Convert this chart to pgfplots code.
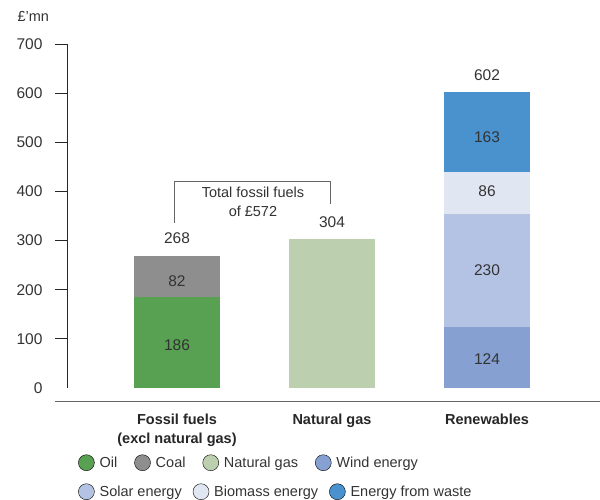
\documentclass[border=0pt]{standalone}
\usepackage{pgfplots}
\pgfplotsset{compat=1.18}
\usepackage{fontspec}
\setmainfont{Liberation Sans}

\definecolor{oilC}{HTML}{58A052}
\definecolor{coalC}{HTML}{8E8E8E}
\definecolor{gasC}{HTML}{BCD0B0}
\definecolor{windC}{HTML}{86A0D2}
\definecolor{solarC}{HTML}{B4C3E4}
\definecolor{bioC}{HTML}{E1E6F3}
\definecolor{wasteC}{HTML}{4A92CE}
\definecolor{txtC}{HTML}{333333}
\definecolor{lineC}{HTML}{666666}

\newcommand{\fs}{\fontsize{14.5}{19}\selectfont}
\newcommand{\fn}{\fontsize{15.5}{19}\selectfont}
\tikzset{vl/.style={font=\fn, text=txtC}}

\pgfplotsset{dot legend/.style={legend image code/.code={\fill[##1] (8pt,0pt) circle (8pt);}}}

\begin{document}
\begin{tikzpicture}
\begin{axis}[
  scale only axis, width=532pt, height=344pt,
  xmin=-0.7032, xmax=2.729, ymin=0, ymax=700,
  axis lines*=left,
  x axis line style={draw=none},
  y axis line style={black!85, line width=1pt},
  ybar stacked, bar width=86pt,
  xtick={0,1,2},
  xticklabels={{Fossil fuels\\(excl natural gas)}, Natural gas, Renewables},
  xtick style={draw=none},
  x tick label style={font=\fs\bfseries, align=center, text=black!85, yshift=-9pt},
  ytick={100,200,...,700},
  extra y ticks={0},
  extra y tick style={tick style={draw=none}},
  tick align=outside, major tick length=13pt,
  ytick style={black!85, line width=1pt},
  y tick label style={font=\fn, text=txtC, xshift=-9pt},
  /pgf/number format/assume math mode=true,
  clip=false,
  legend style={draw=none, fill=none, at={(0.0188,-0.2172)}, anchor=west,
    font=\fs, text=txtC, inner sep=0pt,
    /tikz/every odd column/.append style={column sep=3pt},
    /tikz/every even column/.append style={column sep=15pt}},
  legend columns=-1,
  legend entries={,,,,,,,Oil, Coal, Natural gas, Wind energy},
]
\addplot[draw=none, fill=oilC] coordinates {(0,186) (1,0) (2,0)};
\addplot[draw=none, fill=coalC] coordinates {(0,82) (1,0) (2,0)};
\addplot[draw=none, fill=gasC] coordinates {(0,0) (1,304) (2,0)};
\addplot[draw=none, fill=windC] coordinates {(0,0) (1,0) (2,124)};
\addplot[draw=none, fill=solarC] coordinates {(0,0) (1,0) (2,230)};
\addplot[draw=none, fill=bioC] coordinates {(0,0) (1,0) (2,86)};
\addplot[draw=none, fill=wasteC] coordinates {(0,0) (1,0) (2,163)};

\addlegendimage{dot legend, fill=oilC}
\addlegendimage{dot legend, fill=coalC}
\addlegendimage{dot legend, fill=gasC}
\addlegendimage{dot legend, fill=windC}

% bracket
\draw[lineC, line width=1pt] (axis cs:-0.019,336) |- (axis cs:0.992,419.6) -- (axis cs:0.992,374.2);
\node[font=\fs, text=txtC, align=center, fill=white, inner sep=1pt] at (axis cs:0.49,378) {Total fossil fuels\\of £572};

% baseline
\draw[lineC, line width=1.8pt] (axis cs:-0.787,-27.5) -- (axis cs:2.76,-27.5);

% unit label
\node[font=\fs, text=txtC, anchor=west, xshift=-54pt, yshift=28pt] at (rel axis cs:0,1) {£’mn};
\end{axis}

% second layer: value labels on top of the bars, and second legend row
\begin{axis}[
  scale only axis, width=532pt, height=344pt,
  xmin=-0.7032, xmax=2.729, ymin=0, ymax=700, hide axis, clip=false,
  legend style={draw=none, fill=none, at={(0.0188,-0.3015)}, anchor=west,
    font=\fs, text=txtC, inner sep=0pt,
    /tikz/every odd column/.append style={column sep=3pt},
    /tikz/every even column/.append style={column sep=9pt}},
  legend columns=-1,
  legend entries={Solar energy, Biomass energy, Energy from waste},
]
\addlegendimage{dot legend, fill=solarC}
\addlegendimage{dot legend, fill=bioC}
\addlegendimage{dot legend, fill=wasteC}
\addplot[draw=none, forget plot] coordinates {(0,0)};

% segment values
\node[vl] at (axis cs:0,88) {186};
\node[vl] at (axis cs:0,218) {82};
\node[vl] at (axis cs:2,59) {124};
\node[vl] at (axis cs:2,240) {230};
\node[vl] at (axis cs:2,400) {86};
\node[vl] at (axis cs:2,510) {163};
% totals
\node[vl] at (axis cs:0,304) {268};
\node[vl] at (axis cs:1,338) {304};
\node[vl] at (axis cs:2,637) {602};
\end{axis}

\pgfresetboundingbox
\path[use as bounding box] (-68pt,-111pt) rectangle (532pt,388pt);
\end{tikzpicture}
\end{document}
